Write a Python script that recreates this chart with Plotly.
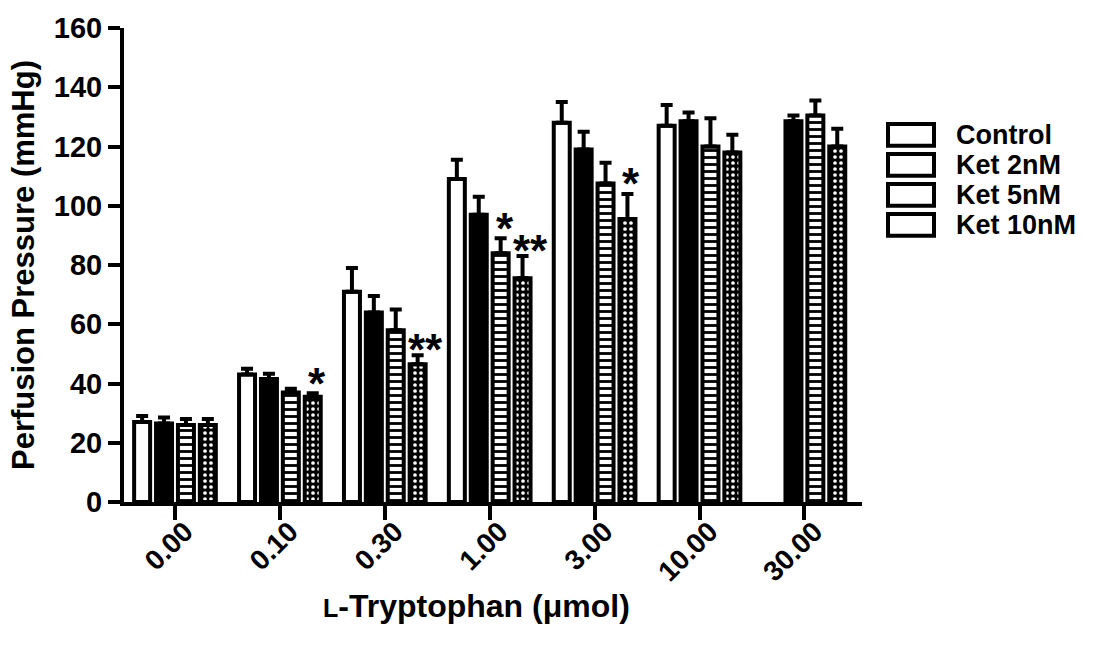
import plotly.graph_objects as go

# ---------------- data ----------------
categories = ["0.00", "0.10", "0.30", "1.00", "3.00", "10.00", "30.00"]
series_names = ["Control", "Ket 2nM", "Ket 5nM", "Ket 10nM"]

control = [27, 43, 71, 109, 128, 127, None]
ket2 = [26.5, 41.5, 64, 97, 119, 128.5, 128.5]
ket5 = [26, 37, 58, 84, 107.5, 120, 130.5]
ket10 = [26, 35.5, 46.5, 75.5, 95.5, 118, 120]

control_err = [2, 2, 8, 6.5, 7, 7, None]
ket2_err = [2, 1.8, 5.5, 6, 6, 3, 2]
ket5_err = [2, 1.2, 7, 5, 7, 9.5, 5]
ket10_err = [2, 1.2, 3, 7.5, 8.5, 6, 6]

y_ticks = [0, 20, 40, 60, 80, 100, 120, 140, 160]

# significance marks: (category, series, text)
significance = [
    ("0.10", "Ket 10nM", "*"),
    ("0.30", "Ket 10nM", "**"),
    ("1.00", "Ket 5nM", "*"),
    ("1.00", "Ket 10nM", "**"),
    ("3.00", "Ket 10nM", "*"),
]

# ---------------- layout constants ----------------
W, H = 1105, 650
ML, MR, MT, MB = 124, 243, 23, 148
FONT = "Liberation Sans, Arial, Helvetica, sans-serif"
BARGAP = 0.165
XR = [-0.486, 6.549]

values = [control, ket2, ket5, ket10]
errors = [control_err, ket2_err, ket5_err, ket10_err]

styles = [
    dict(color="white"),
    dict(color="black"),
    dict(color="white", pattern=dict(shape="-", fgcolor="black", bgcolor="white",
                                      size=7, solidity=0.4, fillmode="replace")),
    dict(color="black", pattern=dict(shape=".", fgcolor="white", bgcolor="black",
                                      size=6, solidity=0.3, fillmode="replace")),
]

fig = go.Figure()
for name, vals, errs, st in zip(series_names, values, errors, styles):
    marker = dict(line=dict(color="black", width=4), **st)
    fig.add_trace(go.Bar(
        x=categories, y=vals, name=name, marker=marker,
        error_y=dict(type="data", symmetric=False, array=errs,
                     arrayminus=[0] * len(errs), color="black",
                     thickness=4, width=6),
        showlegend=False,
    ))

plot_w = W - ML - MR
plot_h = H - MT - MB
cat_px = plot_w / (XR[1] - XR[0])
slot_px = (1 - BARGAP) * cat_px / 4

annotations = []
for cat, ser, txt in significance:
    si = series_names.index(ser)
    ci = categories.index(cat)
    top = values[si][ci] + errors[si][ci]
    double = len(txt) > 1
    annotations.append(dict(
        x=ci, y=top, xref="x", yref="y", text=txt, showarrow=False,
        xanchor="center", yanchor="middle",
        xshift=(si - 1.5) * slot_px + (8 if double else 4),
        yshift=6 if double else 10,
        font=dict(family=FONT, size=44, color="black", weight="bold"),
    ))

# x-axis title as annotation (slightly left of centre, as in the reference)
annotations.append(dict(
    x=(476 - ML) / plot_w, y=-(607 - (H - MB)) / plot_h,
    xref="paper", yref="paper", showarrow=False,
    xanchor="center", yanchor="middle",
    text="<span style='font-size:25px'>L</span>-Tryptophan (μmol)",
    font=dict(family=FONT, size=32, color="black", weight="bold"),
))

# custom legend (empty boxes + labels)
shapes = []
legend_rows = [131, 161.3, 191.7, 222]
for name, py in zip(series_names, legend_rows):
    y0 = (H - MB - (py + 11)) / plot_h
    y1 = (H - MB - (py - 11)) / plot_h
    shapes.append(dict(type="rect", xref="paper", yref="paper",
                       x0=(888 - ML) / plot_w, x1=(934 - ML) / plot_w,
                       y0=y0, y1=y1, line=dict(color="black", width=4),
                       fillcolor="white"))
    annotations.append(dict(
        x=(954 - ML) / plot_w, y=(H - MB - py) / plot_h, xref="paper", yref="paper",
        text=name, showarrow=False, xanchor="left", yanchor="middle",
        font=dict(family=FONT, size=27, color="black", weight="bold"),
    ))

fig.update_layout(
    width=W, height=H,
    margin=dict(l=ML, r=MR, t=MT, b=MB),
    paper_bgcolor="white", plot_bgcolor="white",
    barmode="group", bargap=BARGAP, bargroupgap=0.27,
    font=dict(family=FONT, color="black"),
    annotations=annotations, shapes=shapes,
    xaxis=dict(
        type="category", range=XR, showline=True, linecolor="black", linewidth=4,
        ticks="outside", ticklen=14, tickwidth=4, tickcolor="black",
        tickangle=-45, showgrid=False, zeroline=False,
        ticklabelstandoff=-16, ticklabelshift=10,
        tickfont=dict(family=FONT, size=28, color="black", weight="bold"),
    ),
    yaxis=dict(
        range=[0, 160], tickvals=y_ticks, showline=True, linecolor="black", linewidth=4,
        ticks="outside", ticklen=12, tickwidth=4, tickcolor="black",
        showgrid=False, zeroline=False,
        tickfont=dict(family=FONT, size=29, color="black", weight="bold"),
        title=dict(text="Perfusion Pressure (mmHg)", standoff=11,
                   font=dict(family=FONT, size=31, color="black", weight="bold")),
    ),
)

fig.write_html("out.html")
